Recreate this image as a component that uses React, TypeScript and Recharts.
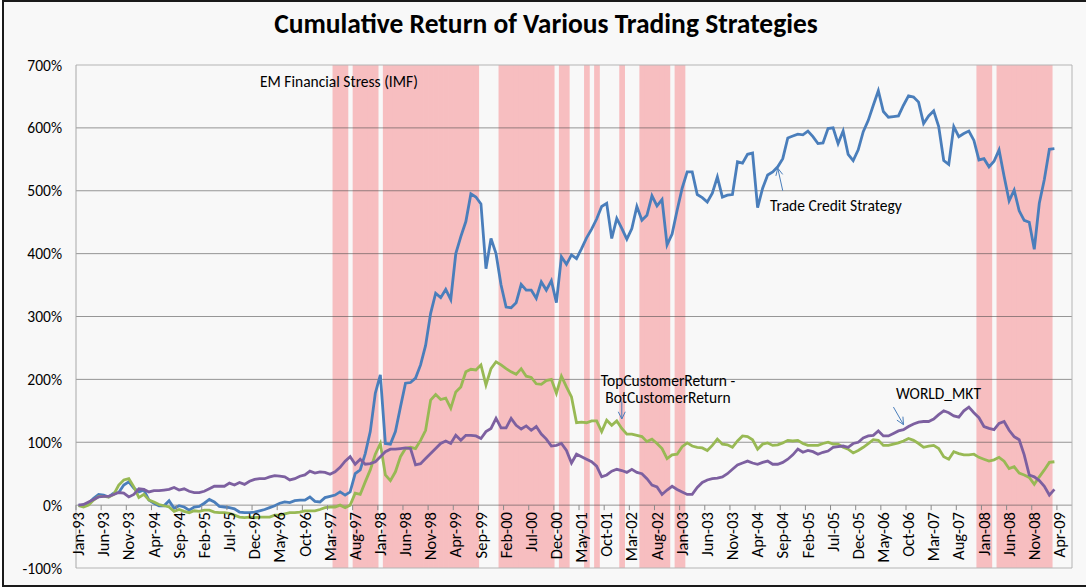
import React from "react";
import { ComposedChart, Bar, Line, XAxis, YAxis, ReferenceLine } from "recharts";

// month axis: Jan-93 .. Jun-09 (data stops at Mar-09)
const MONTHS = ["Jan", "Feb", "Mar", "Apr", "May", "Jun", "Jul", "Aug", "Sep", "Oct", "Nov", "Dec"];
const YEARS = ["93", "94", "95", "96", "97", "98", "99", "00", "01", "02", "03", "04", "05", "06", "07", "08", "09"];
const categories: string[] = YEARS.flatMap((y) => MONTHS.map((m) => `${m}-${y}`)).slice(0, 198);

const yTicks = [-100, 0, 100, 200, 300, 400, 500, 600, 700];

// cumulative return, %, monthly from Jan-93
const tradeCredit = [
  0, -1, 3, 11, 17, 16, 13, 19, 20, 32, 37, 27, 21, 24, 8, 3, -1, -1, 7, -5,
  -1, -3, -8, -3, -2, 3, 9, 5, -2, -3, -4, -6, -11, -12, -12, -11, -9, -7, -4, -1,
  3, 5, 4, 7, 8, 8, 13, 6, 5, 12, 14, 16, 21, 16, 21, 50, 56, 82, 117, 178,
  207, 98, 97, 117, 156, 194, 195, 202, 223, 254, 305, 337, 330, 343, 327, 400, 427, 451, 495, 490,
  479, 376, 424, 400, 350, 315, 314, 322, 351, 342, 342, 329, 355, 342, 357, 322, 395, 383, 398, 392,
  408, 425, 439, 455, 475, 480, 424, 456, 440, 423, 440, 475, 453, 461, 492, 476, 486, 414, 431, 469,
  504, 530, 530, 494, 489, 482, 496, 522, 490, 493, 494, 546, 544, 558, 560, 473, 504, 525, 530, 538,
  551, 584, 587, 590, 589, 595, 586, 575, 576, 599, 600, 575, 595, 558, 548, 565, 594, 612, 636, 659,
  626, 617, 618, 619, 636, 651, 649, 641, 607, 619, 627, 602, 548, 542, 602, 586, 591, 595, 580, 549,
  551, 538, 547, 565, 523, 484, 501, 468, 453, 450, 407, 480, 518, 566, 567,
];

const topMinusBot = [
  -1, -3, 0, 8, 14, 14, 13, 17, 32, 40, 42, 29, 12, 17, 8, 5, 1, -1, -3, -10,
  -7, -10, -12, -9, -10, -8, -8, -11, -12, -12, -13, -16, -19, -20, -19, -20, -19, -19, -19, -16,
  -16, -14, -12, -12, -11, -9, -9, -9, -7, -4, -3, -3, 0, -4, 0, 19, 17, 37, 56, 81,
  98, 48, 39, 53, 77, 90, 92, 90, 103, 119, 167, 176, 168, 170, 154, 180, 188, 212, 216, 215,
  223, 191, 217, 228, 223, 217, 212, 208, 217, 205, 203, 193, 192, 198, 200, 178, 205, 188, 172, 131,
  132, 131, 134, 134, 117, 135, 127, 134, 122, 113, 113, 111, 109, 101, 105, 98, 90, 74, 80, 81,
  93, 99, 94, 92, 91, 87, 95, 105, 97, 96, 92, 102, 110, 109, 104, 89, 97, 99, 95, 96,
  99, 103, 102, 103, 98, 95, 95, 95, 98, 100, 97, 97, 92, 89, 83, 87, 92, 98, 104, 103,
  95, 95, 97, 99, 102, 106, 103, 98, 92, 94, 95, 90, 77, 73, 85, 82, 80, 80, 81, 76,
  73, 70, 72, 76, 70, 58, 61, 51, 48, 44, 33, 45, 56, 68, 69,
];

const worldMkt = [
  0, 1, 5, 9, 13, 14, 14, 17, 20, 19, 13, 17, 26, 25, 21, 23, 23, 24, 25, 28,
  24, 26, 22, 20, 20, 22, 26, 30, 30, 30, 35, 32, 36, 33, 38, 41, 42, 42, 45, 47,
  46, 45, 40, 42, 46, 48, 54, 51, 53, 52, 49, 53, 60, 70, 77, 65, 73, 65, 66, 69,
  77, 85, 89, 89, 90, 91, 90, 64, 66, 74, 82, 90, 98, 102, 98, 111, 103, 111, 111, 110,
  106, 117, 122, 138, 123, 123, 138, 127, 121, 126, 119, 125, 113, 105, 94, 95, 98, 87, 67, 81,
  77, 73, 69, 62, 45, 48, 54, 57, 55, 52, 57, 52, 50, 42, 32, 29, 17, 24, 30, 25,
  21, 17, 17, 28, 36, 40, 42, 43, 45, 50, 57, 64, 67, 70, 67, 65, 68, 70, 65, 65,
  68, 73, 80, 89, 84, 87, 85, 81, 84, 86, 92, 93, 94, 92, 98, 100, 107, 110, 111, 118,
  110, 110, 114, 118, 120, 125, 129, 132, 133, 133, 137, 144, 150, 147, 142, 140, 150, 156, 147, 139,
  125, 122, 120, 130, 133, 119, 109, 104, 80, 48, 45, 39, 30, 16, 25,
];

// months flagged by the IMF EM financial stress index
const stressMonths = [
  "Apr-97", "May-97", "Jun-97",
  "Aug-97", "Sep-97", "Oct-97", "Nov-97", "Dec-97",
  "Feb-98", "Mar-98", "Apr-98", "May-98", "Jun-98", "Jul-98", "Aug-98", "Sep-98", "Oct-98", "Nov-98", "Dec-98",
  "Jan-99", "Feb-99", "Mar-99", "Apr-99", "May-99", "Jun-99", "Jul-99", "Aug-99",
  "Jan-00", "Feb-00", "Mar-00", "Apr-00", "May-00", "Jun-00", "Jul-00", "Aug-00", "Sep-00", "Oct-00", "Nov-00",
  "Jan-01", "Feb-01", "Jun-01", "Aug-01", "Jan-02",
  "May-02", "Jun-02", "Jul-02", "Aug-02", "Sep-02", "Oct-02",
  "Dec-02", "Jan-03",
  "Dec-07", "Jan-08", "Feb-08",
  "Apr-08", "May-08", "Jun-08", "Jul-08", "Aug-08", "Sep-08", "Oct-08", "Nov-08", "Dec-08", "Jan-09", "Feb-09",
];

// annotation arrows, in data coordinates
const arrows = [
  { from: { x: "Sep-04", y: 500 }, to: { x: "Aug-04", y: 536 } },
  { from: { x: "Jan-02", y: 165 }, to: { x: "Jan-02", y: 137 } },
  { from: { x: "Jul-06", y: 156 }, to: { x: "Sep-06", y: 128 } },
];

const data = categories.map((month, i) => ({
  month,
  trade: tradeCredit[i] ?? null,
  spread: topMinusBot[i] ?? null,
  world: worldMkt[i] ?? null,
  stress: stressMonths.includes(month) ? [-100, 700] : null,
}));

const W = 1086;
const H = 588;
const PLOT_H = 503;
const BAND = 996 / categories.length;
const ZERO_OFFSET = (PLOT_H * 100) / 800;
const FONT = "Carlito, 'Liberation Sans Narrow', 'Open Sans', sans-serif";
const PINK = "#f7bec0";
const BLUE = "#4a7ebb";

const MonthTick = (props: any) => {
  const { x, y, payload } = props;
  const axisY = y - ZERO_OFFSET;
  return (
    <g>
      <line x1={x - BAND / 2} x2={x - BAND / 2} y1={axisY} y2={axisY + 5} stroke="#8a8a8a" />
      <text
        transform={`translate(${x},${axisY + 7}) rotate(-90)`}
        textAnchor="end"
        dy="0.34em"
        fontSize={16.5}
        fontFamily={FONT}
        fill="#000"
      >
        {payload.value}
      </text>
    </g>
  );
};

const StressBand = (p: any) =>
  p.height ? <rect x={p.x} y={p.y} width={p.width + 0.7} height={p.height} fill={PINK} /> : <g />;

const Arrow = (p: any) => {
  const { x1, y1, x2, y2 } = p;
  const a = Math.atan2(y2 - y1, x2 - x1);
  const len = 8;
  const b1 = a + Math.PI - 0.45;
  const b2 = a + Math.PI + 0.45;
  return (
    <g stroke={BLUE} strokeWidth={1} fill="none">
      <line x1={x1} y1={y1} x2={x2} y2={y2} />
      <line x1={x2} y1={y2} x2={x2 + len * Math.cos(b1)} y2={y2 + len * Math.sin(b1)} />
      <line x1={x2} y1={y2} x2={x2 + len * Math.cos(b2)} y2={y2 + len * Math.sin(b2)} />
    </g>
  );
};

export default function App() {
  return (
    <div style={{ position: "absolute", left: 0, top: 0, width: W, height: H, overflow: "hidden", background: "#fff" }}>
      <div
        style={{
          position: "absolute",
          left: 2,
          top: 0,
          width: 1100,
          height: 583,
          background: "#f8f8f8",
          borderLeft: "2px solid #1a1a1a",
          borderTop: "2px solid #1a1a1a",
          borderBottom: "2px solid #1a1a1a",
        }}
      />
      <div style={{ position: "absolute", left: 0, top: 0 }}>
        <ComposedChart
          width={W}
          height={H}
          data={data}
          margin={{ top: 65, right: 14, bottom: 0, left: 10 }}
          barCategoryGap={0}
          barGap={0}
        >
          <XAxis
            dataKey="month"
            interval={4}
            tickLine={false}
            axisLine={false}
            tickSize={0}
            tickMargin={0}
            height={20}
            tick={<MonthTick />}
          />
          <YAxis
            domain={[-100, 700]}
            ticks={yTicks}
            tickFormatter={(v: number) => `${v}%`}
            width={66}
            tickLine={false}
            tickMargin={8}
            axisLine={{ stroke: "#a8a8a8" }}
            tick={{ fontSize: 15.5, fontFamily: FONT, fill: "#000" }}
          />
          <Bar dataKey="stress" isAnimationActive={false} shape={<StressBand />} />
          {yTicks.slice(1, -1).map((v) => (
            <ReferenceLine key={v} y={v} stroke="rgba(70,70,70,0.55)" strokeWidth={1} />
          ))}
          <ReferenceLine y={700} stroke="#b4b4b4" />
          <ReferenceLine y={-100} stroke="#b4b4b4" />
          <ReferenceLine x={categories[categories.length - 1]} position="end" stroke="#b4b4b4" />
          <Line dataKey="trade" stroke={BLUE} strokeWidth={2.8} dot={false} isAnimationActive={false} />
          <Line dataKey="spread" stroke="#98b954" strokeWidth={2.8} dot={false} isAnimationActive={false} />
          <Line dataKey="world" stroke="#7d60a0" strokeWidth={2.8} dot={false} isAnimationActive={false} />
          {arrows.map((a, i) => (
            <ReferenceLine key={i} segment={[a.from, a.to]} shape={(p: any) => <Arrow {...p} />} />
          ))}
        </ComposedChart>
      </div>
      <svg width={W} height={H} style={{ position: "absolute", left: 0, top: 0, pointerEvents: "none" }} fontFamily={FONT}>
        <text x={546} y={33} textAnchor="middle" fontSize={27.5} fontWeight="bold" fill="#000">
          Cumulative Return of Various Trading Strategies
        </text>
        <text x={260} y={87} fontSize={15.5} fill="#000">EM Financial Stress (IMF)</text>
        <text x={770} y={211} fontSize={15.5} fill="#000">Trade Credit Strategy</text>
        <text x={668} y={386} textAnchor="middle" fontSize={15.5} fill="#000">TopCustomerReturn -</text>
        <text x={668} y={403} textAnchor="middle" fontSize={15.5} fill="#000">BotCustomerReturn</text>
        <text x={896} y={399} fontSize={15.5} fill="#000">WORLD_MKT</text>
      </svg>
    </div>
  );
}
